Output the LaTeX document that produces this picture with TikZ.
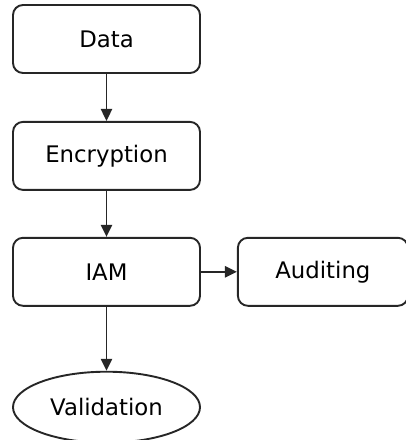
\documentclass[tikz,border=0pt]{standalone}
\usepackage{fontspec}
\setmainfont{DejaVu Sans}
\usetikzlibrary{positioning,shapes.geometric,arrows.meta}

\tikzset{
  stage/.style={draw=black!85, rounded corners=5pt, line width=0.95pt,
    minimum width=93.5pt, minimum height=34pt, inner sep=1pt,
    font=\fontsize{11.4}{13}\selectfont},
  endstage/.style={stage, ellipse, rounded corners=0pt, minimum height=35.5pt},
  flow/.style={draw=black!85, line width=0.95pt, -{Triangle[length=6pt, width=5.6pt]}},
}

\begin{document}
\begin{tikzpicture}[node distance=23pt]
	\useasboundingbox (0, 0) rectangle (203pt, -220pt) ;

	\node[stage] (data) at (53.25pt, -19.5pt) {Data} ;
	\node[stage, below=23.5pt of data] (encrypt) {Encryption} ;
	\node[stage, below=of encrypt] (iam) {IAM} ;
	\node[stage, right=18pt of iam, minimum width=85pt] (audit) {Auditing} ;
	\node[endstage, below=32pt of iam] (valid) {Validation} ;

	\draw[flow] (data) -- (encrypt) ;
	\draw[flow] (encrypt) -- (iam) ;
	\draw[flow] (iam) -- (audit) ;
	\draw[flow] (iam) -- (valid) ;
\end{tikzpicture}
\end{document}
